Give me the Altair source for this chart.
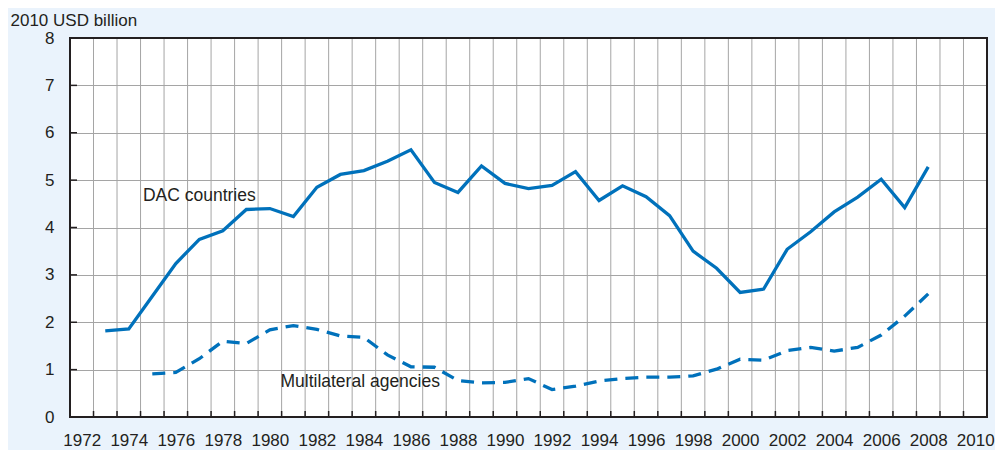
import altair as alt
import pandas as pd

# ---- data ----
dac_years = list(range(1973, 2009))
dac_values = [1.82, 1.86, 2.55, 3.24, 3.75, 3.93, 4.38, 4.40, 4.23, 4.85,
              5.12, 5.20, 5.40, 5.64, 4.95, 4.74, 5.30, 4.93, 4.82, 4.89,
              5.18, 4.57, 4.88, 4.65, 4.25, 3.50, 3.14, 2.63, 2.70, 3.54,
              3.91, 4.33, 4.64, 5.02, 4.42, 5.28]
multi_years = list(range(1975, 2009))
multi_values = [0.91, 0.94, 1.23, 1.60, 1.55, 1.84, 1.93, 1.85, 1.71, 1.68,
                1.31, 1.06, 1.05, 0.77, 0.72, 0.73, 0.81, 0.58, 0.65, 0.76,
                0.81, 0.84, 0.84, 0.87, 1.01, 1.22, 1.20, 1.40, 1.47, 1.39,
                1.47, 1.73, 2.13, 2.60]
y_ticks = list(range(0, 9))
x_label_years = list(range(1972, 2011, 2))
year_bounds = [y + 0.5 for y in range(1972, 2010)]

series_labels = ["DAC countries", "Multilateral agencies"]
label_x = [1974.6, 1980.45]
label_y = [4.55, 0.64]

W, H = 917, 379
FONT = "Liberation Sans, Arial, Helvetica, sans-serif"
FS = 17
BLUE = "#0071bb"
GRID = "#a5a5a5"
TEXT = "#231f20"
BG = "#eaf3fc"

xscale = alt.Scale(domain=[1971.5, 2010.5], nice=False, zero=False)
yscale = alt.Scale(domain=[0, 8], nice=False, zero=True)

xaxis = alt.Axis(values=x_label_years, format="d", grid=False, ticks=False,
                 domain=False, labelPadding=15, labelFontSize=FS,
                 labelFont=FONT, labelColor=TEXT, title=None)
yaxis = alt.Axis(values=y_ticks, format="d", grid=True, gridColor=GRID,
                 gridWidth=1, ticks=False, domain=False, labelPadding=16,
                 labelFontSize=FS, labelFont=FONT, labelColor=TEXT,
                 title="2010 USD billion", titleAngle=0, titleAlign="left",
                 titleBaseline="alphabetic", titleX=-60, titleY=-13,
                 titleFont=FONT, titleFontSize=FS, titleFontWeight="normal",
                 titleColor=TEXT)


def X(field):
    return alt.X(field, type="quantitative", scale=xscale, axis=xaxis)


def Y(field):
    return alt.Y(field, type="quantitative", scale=yscale, axis=yaxis)


dac_df = pd.DataFrame({"year": dac_years, "value": dac_values})
multi_df = pd.DataFrame({"year": multi_years, "value": multi_values})
bounds_df = pd.DataFrame({"b": year_bounds})
yt_df = pd.DataFrame({"t": y_ticks[1:]})
lab_df = pd.DataFrame({"x": label_x, "y": label_y, "text": series_labels})

grid_v = alt.Chart(bounds_df).mark_rule(color=GRID, strokeWidth=1).encode(
    x=X("b"), y=alt.value(0), y2=alt.value(H))

ticks_bottom = alt.Chart(bounds_df).mark_rule(color=TEXT, strokeWidth=1.5).encode(
    x=X("b"), y=alt.value(H), y2=alt.value(H - 6))

ticks_left = alt.Chart(yt_df).mark_rule(color=TEXT, strokeWidth=1.5).encode(
    y=Y("t"), x=alt.value(0), x2=alt.value(7))

line_dac = alt.Chart(dac_df).mark_line(color=BLUE, strokeWidth=3.3).encode(
    x=X("year"), y=Y("value"))

line_multi = alt.Chart(multi_df).mark_line(
    color=BLUE, strokeWidth=3.3, strokeDash=[13, 8], strokeCap="butt").encode(
    x=X("year"), y=Y("value"))

labels = alt.Chart(lab_df).mark_text(
    align="left", baseline="alphabetic", fontSize=17.5, font=FONT, color=TEXT
).encode(x=X("x"), y=Y("y"), text="text:N")

frame = alt.Chart(alt.Data(values=[{}])).mark_rect(
    filled=False, stroke=TEXT, strokeWidth=2).encode(
    x=alt.value(0), x2=alt.value(W), y=alt.value(0), y2=alt.value(H))

chart = alt.layer(
    grid_v, ticks_bottom, ticks_left, line_dac, line_multi, labels, frame
).properties(
    width=W, height=H,
    padding={"left": 62, "top": 30, "right": 8, "bottom": 33},
    autosize=alt.AutoSizeParams(type="none"),
    background=BG,
).configure_view(stroke=None, fill="white")

chart.save("out.html", embed_options={"renderer": "svg", "actions": False})
